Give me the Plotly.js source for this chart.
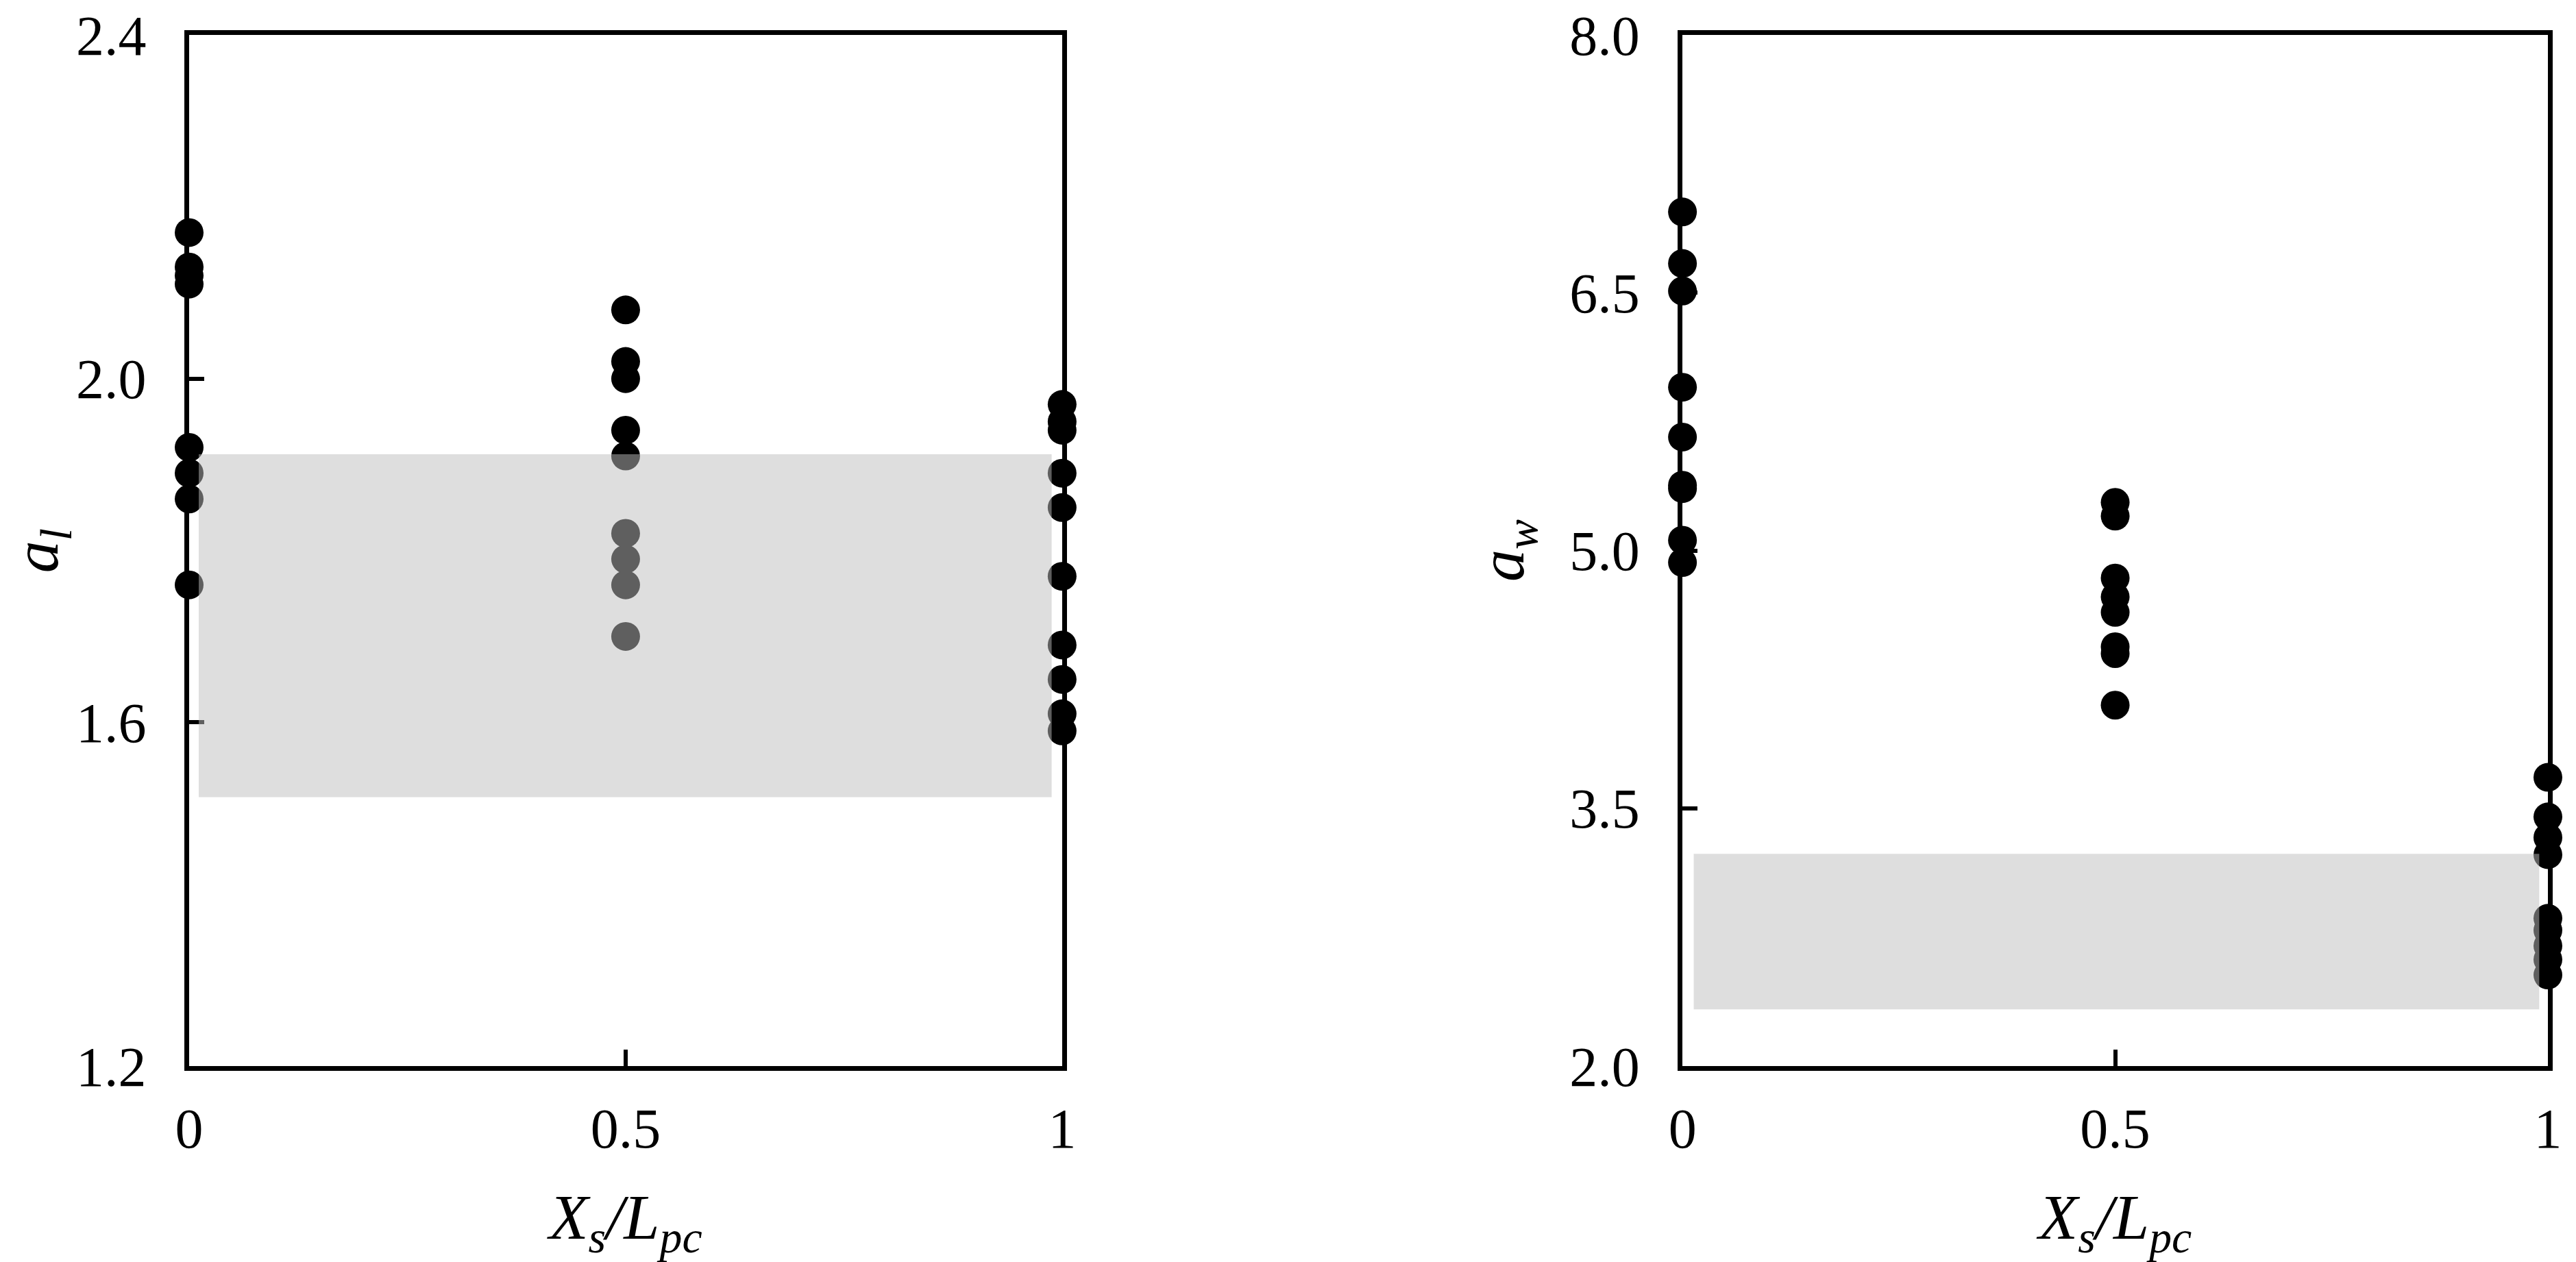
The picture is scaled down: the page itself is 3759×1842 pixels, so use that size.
<!DOCTYPE html>
<html>
<head>
<meta charset="utf-8">
<script src="https://cdn.plot.ly/plotly-3.0.1.min.js"></script>
<style>html,body{margin:0;padding:0;background:#fff;}#chart{width:3759px;height:1842px;}</style>
</head>
<body>
<div id="chart"></div>
<script>
// ---- data ----
const xTickVals = [0, 0.5, 1];
const xTickText = ["0", "0.5", "1"];

// left panel: a_l
const alAt0   = [2.17, 2.13, 2.12, 2.11, 1.92, 1.89, 1.86, 1.76];
const alAt05  = [2.08, 2.02, 2.00, 1.94, 1.91, 1.82, 1.79, 1.76, 1.70];
const alAt1   = [1.97, 1.95, 1.94, 1.89, 1.85, 1.77, 1.69, 1.65, 1.61, 1.59];
const alBand  = [1.513, 1.912];
const alTicks = [1.2, 1.6, 2.0, 2.4];

// right panel: a_w
const awAt0   = [6.97, 6.67, 6.51, 5.95, 5.66, 5.38, 5.36, 5.06, 4.93];
const awAt05  = [5.28, 5.20, 4.84, 4.73, 4.64, 4.44, 4.40, 4.10];
const awAt1   = [3.68, 3.45, 3.33, 3.23, 2.86, 2.79, 2.70, 2.62, 2.53];
const awBand  = [2.33, 3.235];
const awTicks = [2.0, 3.5, 5.0, 6.5, 8.0];

const alBandX = [0.011, 0.988];
const awBandX = [0.013, 0.99];

function col(x, arr) { return arr.map(() => x); }

const serif = "Liberation Serif, Times New Roman, serif";
const marker = {size: 42, color: "#000000", line: {width: 0}};

function pts(vals0, vals05, vals1, xa, ya) {
  return {
    type: "scatter", mode: "markers",
    x: col(0, vals0).concat(col(0.5, vals05), col(1, vals1)),
    y: vals0.concat(vals05, vals1),
    xaxis: xa, yaxis: ya, marker: marker, cliponaxis: false,
    hoverinfo: "x+y", showlegend: false
  };
}

const traces = [
  pts(alAt0, alAt05, alAt1, "x", "y"),
  pts(awAt0, awAt05, awAt1, "x2", "y2")
];

const tickFont = {family: serif, size: 82, color: "#000"};
const titleFont = {family: serif, size: 94, color: "#000"};

function xAxis(domain, anchor) {
  return {
    domain: domain, anchor: anchor, range: [0, 1],
    tickvals: xTickVals, ticktext: xTickText,
    ticks: "inside", ticklen: 24, tickwidth: 6, tickcolor: "#000",
    showline: true, linewidth: 7, linecolor: "#000", mirror: true,
    showgrid: false, zeroline: false, tickfont: tickFont,
    ticklabelstandoff: 14,
    title: {text: "<i>X<sub>s</sub>/L<sub>pc</sub></i>", font: titleFont, standoff: 60}
  };
}
function yAxis(range, ticks, anchor, titleText) {
  return {
    domain: [0, 1], anchor: anchor, range: range,
    tickvals: ticks, tickformat: ".1f",
    ticks: "inside", ticklen: 22, tickwidth: 6, tickcolor: "#000",
    showline: true, linewidth: 7, linecolor: "#000", mirror: true,
    showgrid: false, zeroline: false, tickfont: tickFont,
    ticklabelstandoff: 39,
    title: {text: titleText, font: titleFont, standoff: 38}
  };
}

const bandStyle = {type: "rect", layer: "above", line: {width: 0}, fillcolor: "rgba(190,190,190,0.5)"};

const layout = {
  width: 3759, height: 1842,
  margin: {l: 276, r: 41, t: 51, b: 286},
  paper_bgcolor: "#fff", plot_bgcolor: "rgba(0,0,0,0)",
  showlegend: false,
  xaxis: xAxis([0, 0.3701], "y"),
  yaxis: yAxis([1.2, 2.4], alTicks, "x", "<i>a<sub>l</sub></i>"),
  xaxis2: xAxis([0.6331, 1], "y2"),
  yaxis2: yAxis([2.0, 8.0], awTicks, "x2", "<i>a<sub>w</sub></i>"),
  shapes: [
    Object.assign({xref: "x", yref: "y", x0: alBandX[0], x1: alBandX[1], y0: alBand[0], y1: alBand[1]}, bandStyle),
    Object.assign({xref: "x2", yref: "y2", x0: awBandX[0], x1: awBandX[1], y0: awBand[0], y1: awBand[1]}, bandStyle)
  ]
};

Plotly.newPlot("chart", traces, layout, {staticPlot: true, displayModeBar: false});
</script>
</body>
</html>
